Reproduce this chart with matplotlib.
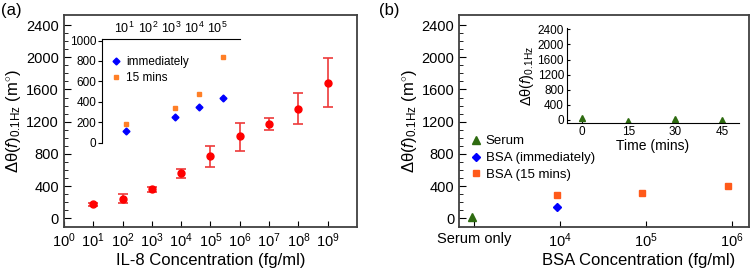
import numpy as np
import matplotlib
matplotlib.use("Agg")
from matplotlib import pyplot as plt

plt.rcParams['font.family'] = ['Liberation Sans', 'DejaVu Sans']
plt.rcParams['mathtext.fontset'] = 'custom'
plt.rcParams['mathtext.rm'] = 'Liberation Sans'
plt.rcParams['mathtext.it'] = 'Liberation Sans:italic'

# (a) IL-8 response
il8_conc = [1e1, 1e2, 1e3, 1e4, 1e5, 1e6, 1e7, 1e8, 1e9]
il8_val = [172, 240, 360, 558, 768, 1018, 1168, 1362, 1686]
il8_lo = [15, 52, 28, 58, 135, 178, 72, 195, 308]
il8_hi = [15, 58, 28, 58, 135, 170, 72, 195, 308]

# (a) inset
ins_conc = [11, 1450, 16000, 187000]
ins_immediate = [118, 255, 346, 441]
ins_15min = [180, 337, 480, 840]

# (b) BSA / serum
serum_x = [9.6e2]
serum_y = [10]
bsa_imm_x = [9.2e3]
bsa_imm_y = [145]
bsa_15_x = [9.2e3, 9.0e4, 9.0e5]
bsa_15_y = [285, 314, 401]
b_ticks = [1e3, 1e4, 1e5, 1e6]
b_ticklabels = ['Serum only', '$10^{4}$', '$10^{5}$', '$10^{6}$']

# (b) inset
time_min = [0, 15, 30, 45]
serum_time = [40, -25, 25, -15]

ylab = r'$\mathrm{\Delta\theta(}\mathit{f}\mathrm{)}_{\mathrm{0.1Hz}}$ (m$^{\circ}$)'
ylab_in = r'$\mathrm{\Delta\theta(}\mathit{f}\mathrm{)}_{\mathrm{0.1Hz}}$'

fig = plt.figure(figsize=(7.5, 2.68), dpi=100)

def main_axes(rect):
    ax = fig.add_axes(rect)
    for s in ax.spines.values():
        s.set_color('#404040')
        s.set_linewidth(1.3)
    ax.set_ylim(-105, 2525)
    ax.set_yticks(np.arange(0, 2401, 400))
    ax.set_yticks(np.arange(0, 2401, 100), minor=True)
    ax.tick_params(axis='both', which='both', direction='in', labelsize=10.5)
    ax.tick_params(axis='y', which='major', length=5, left=True, right=False)
    ax.tick_params(axis='y', which='minor', length=3, left=True, right=False)
    ax.tick_params(axis='x', which='minor', bottom=False, top=False)
    ax.tick_params(axis='x', which='major', length=4, top=False)
    ax.set_ylabel(ylab, fontsize=12, labelpad=2)
    return ax

# ---- panel (a)
ax1 = main_axes([0.0853, 0.154, 0.3907, 0.790])
ax1.set_xscale('log')
ax1.set_xlim(1, 1e10)
ax1.set_xticks([10.0**k for k in range(10)])
ax1.set_xticklabels(['$10^{%d}$' % k for k in range(10)])
ax1.errorbar(il8_conc, il8_val, yerr=[il8_lo, il8_hi], fmt='o', color='#ff0000',
             ecolor='#ee3a3a', elinewidth=1.2, capsize=3.5, capthick=1.2, markersize=5)
ax1.set_xlabel('IL-8 Concentration (fg/ml)', fontsize=12, labelpad=2)

ia = fig.add_axes([0.1356, 0.4675, 0.1844, 0.387])
ia.patch.set_alpha(0)
ia.set_xscale('log')
ia.set_xlim(1, 1e6)
ia.set_ylim(0, 1015)
ia.spines['right'].set_visible(False)
ia.spines['bottom'].set_visible(False)
ia.xaxis.tick_top()
ia.set_xticks([1e1, 1e2, 1e3, 1e4, 1e5])
ia.set_xticklabels(['$10^{%d}$' % k for k in range(1, 6)])
ia.tick_params(axis='x', which='minor', top=False, bottom=False)
ia.tick_params(axis='x', which='major', length=0, labelsize=9, pad=2)
ia.set_yticks(np.arange(0, 1001, 200))
ia.tick_params(axis='y', labelsize=8.5, length=3, pad=1)
ia.plot(ins_conc, ins_immediate, 'D', color='#0000ff', markersize=3.5, label='immediately')
ia.plot(ins_conc, ins_15min, 's', color='#ff7f27', markersize=3.5, label='15 mins')
ia.legend(loc='upper left', bbox_to_anchor=(0.0, 0.9), frameon=False, fontsize=8.5,
          handletextpad=0.3, borderaxespad=0.2, labelspacing=0.3, handlelength=1.2)

# ---- panel (b)
ax2 = main_axes([0.6124, 0.154, 0.3863, 0.790])
ax2.set_xscale('log')
ax2.set_xlim(10**2.83, 10**6.2)
ax2.set_xticks(b_ticks)
ax2.set_xticklabels(b_ticklabels)
ax2.plot(serum_x, serum_y, '^', color='#2e6b10', markersize=5.5, label='Serum')
ax2.plot(bsa_imm_x, bsa_imm_y, 'D', color='#0000ff', markersize=4.5, label='BSA (immediately)')
ax2.plot(bsa_15_x, bsa_15_y, 's', color='#ff5a1a', markersize=4.5, label='BSA (15 mins)')
ax2.set_xlabel('BSA Concentration (fg/ml)', fontsize=12, labelpad=2, x=0.62)
ax2.legend(loc='upper left', bbox_to_anchor=(0.0, 0.47), frameon=False, fontsize=9.5,
           handletextpad=0.1, borderaxespad=0.2, labelspacing=0.35, handlelength=1.3)

ib = fig.add_axes([0.7556, 0.540, 0.2297, 0.3545])
ib.patch.set_alpha(0)
ib.set_xlim(-4.8, 50.4)
ib.set_ylim(-90, 2430)
ib.spines['right'].set_visible(False)
ib.spines['top'].set_visible(False)
ib.set_xticks(time_min)
ib.set_yticks(np.arange(0, 2401, 400))
ib.tick_params(axis='both', direction='in', labelsize=8.5, length=2, pad=2)
ib.plot(time_min, serum_time, '^', color='#2e6b10', markersize=4)
ib.set_xlabel('Time (mins)', fontsize=10, labelpad=1)
ib.set_ylabel(ylab_in, fontsize=10.5, labelpad=1)

fig.text(0.002, 0.99, '(a)', fontsize=12, va='top', ha='left')
fig.text(0.505, 0.99, '(b)', fontsize=12, va='top', ha='left')

fig.savefig('out.png', dpi=100)
